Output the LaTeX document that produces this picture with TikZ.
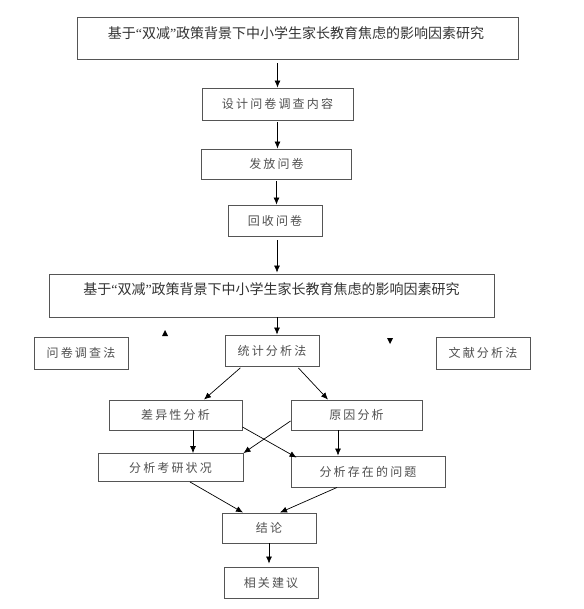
\documentclass[tikz,border=0pt]{standalone}
\usepackage{fontspec}
\newfontfamily\cjk{Noto Sans CJK SC}
\newfontfamily\latq{Liberation Serif}
\newfontfamily\cjksp[LetterSpace=18]{Noto Sans CJK SC}
\usetikzlibrary{arrows.meta,calc}
\definecolor{boxline}{HTML}{555555}
\definecolor{txtdark}{HTML}{333333}
\definecolor{txtlight}{HTML}{505050}
\newcommand{\qo}{{\latq “}}
\newcommand{\qc}{{\latq ”}}
\begin{document}
\begin{tikzpicture}[x=1pt,y=-1pt,
  bigbox/.style={draw=boxline,line width=0.9pt,rectangle,inner sep=0pt},
  bigtext/.style={font=\cjk\fontsize{14}{16}\selectfont,text=txtdark,inner sep=0pt},
  smallbox/.style={draw=boxline,line width=0.9pt,rectangle,inner sep=0pt,
     font=\cjksp\fontsize{12}{14}\selectfont,text=txtlight},
  arr/.style={draw=black,line width=0.7pt,-{Latex[length=7pt,width=6pt]}},
  stray/.style={fill=black}]
\useasboundingbox[fill=white] (0,0) rectangle (583,609);
% top title box
\node[bigbox,minimum width=441pt,minimum height=42pt] (b1) at (297.5,38) {};
\node[bigtext] (t1) at (296,33) {基于\qo 双减\qc 政策背景下中小学生家长教育焦虑的影响因素研究};
\node[smallbox,minimum width=151pt,minimum height=32pt] (b2) at (277.5,104) {设计问卷调查内容};
\node[smallbox,minimum width=150pt,minimum height=30pt] (b3) at (276.5,164) {发放问卷};
\node[smallbox,minimum width=94pt,minimum height=31pt] (b4) at (275,220.5) {回收问卷};
% second title box
\node[bigbox,minimum width=445pt,minimum height=43pt] (b5) at (271.5,295.5) {};
\node[bigtext] (t5) at (271.5,289) {基于\qo 双减\qc 政策背景下中小学生家长教育焦虑的影响因素研究};
% methods row
\node[smallbox,minimum width=94pt,minimum height=31pt] (s1) at (272,350.5) {统计分析法};
\node[smallbox,minimum width=94pt,minimum height=32pt] (m1) at (81,353) {问卷调查法};
\node[smallbox,minimum width=94pt,minimum height=32pt] (m2) at (483,353) {文献分析法};
% analyses
\node[smallbox,minimum width=133pt,minimum height=30pt] (d1) at (175.5,415) {差异性分析};
\node[smallbox,minimum width=131pt,minimum height=30pt] (d2) at (356.5,415) {原因分析};
\node[smallbox,minimum width=145pt,minimum height=28pt] (e1) at (170.5,467.5) {分析考研状况};
\node[smallbox,minimum width=154pt,minimum height=31pt] (e2) at (368,471.5) {分析存在的问题};
\node[smallbox,minimum width=94pt,minimum height=30pt] (c1) at (269,528) {结论};
\node[smallbox,minimum width=94pt,minimum height=31pt] (c2) at (271,582.5) {相关建议};
% connectors
\draw[arr,shorten <=4pt] (b1.south -| b2.north) -- (b2.north);
\draw[arr,shorten <=2pt] (b2.south) -- (b2.south |- b3.north);
\draw[arr,shorten <=2pt] (b3.south) -- (b3.south |- b4.north);
\draw[arr,shorten <=4pt,shorten >=1pt] ([xshift=2pt]b4.south) -- ([xshift=2pt]b4.south |- b5.north);
\draw[arr] ([xshift=5pt]s1.north |- b5.south) -- ([xshift=5pt]s1.north);
\draw[arr,shorten <=2pt] ([xshift=-30pt]s1.south) -- ([xshift=28.5pt]d1.north);
\draw[arr,shorten <=2pt] ([xshift=25pt]s1.south) -- ([xshift=-28.5pt]d2.north);
\draw[arr] ([xshift=17.5pt]d1.south) -- ([xshift=17.5pt]d1.south |- e1.north);
\draw[arr] ([xshift=-18.5pt]d2.south) -- ([xshift=-18.5pt]d2.south |- e2.north);
\draw[arr] ([yshift=-12pt]d1.east) -- ([xshift=6pt,yshift=-2pt]e2.north west);
\draw[arr] ([yshift=-6pt]d2.west) -- (e1.north east);
\draw[arr] ([xshift=19.5pt]e1.south) -- ([xshift=-26pt]c1.north);
\draw[arr] ([xshift=-31pt]e2.south) -- ([xshift=11pt]c1.north);
\draw[arr,shorten >=3pt] (c1.south) -- (c1.south |- c2.north);
% stray arrowheads
\fill[stray] (162,336) -- (168,336) -- (165,330) -- cycle;
\fill[stray] (387,338) -- (393,338) -- (390,344) -- cycle;
\end{tikzpicture}
\end{document}
